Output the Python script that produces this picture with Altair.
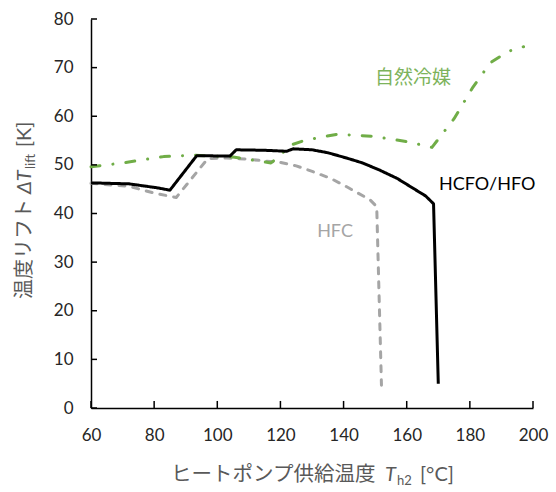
import altair as alt
import pandas as pd

# ---- data ----
black_x = [60, 72, 80.8, 85, 93.5, 104, 106, 115, 122, 124, 130, 135, 141, 146, 151.5, 157, 162, 166, 168.5, 170]
black_y = [46.3, 46.1, 45.3, 44.8, 51.9, 51.8, 53.1, 53.0, 52.8, 53.3, 53.1, 52.5, 51.4, 50.4, 48.9, 47.2, 45.2, 43.6, 42.0, 5.0]

grey_x = [60, 72, 80, 87, 97, 103, 109, 116.7, 120, 125, 130.3, 136, 141, 148.4, 150.5, 152]
grey_y = [46.2, 45.6, 44.2, 43.3, 51.3, 51.4, 51.2, 50.7, 50.5, 49.8, 48.6, 47.2, 45.5, 42.8, 41.4, 4.7]

green_x = [60, 70, 83, 93, 105, 117, 120, 123, 127, 132, 138, 149, 160, 168, 175, 181, 186.5, 192, 197]
green_y = [49.6, 50.4, 51.7, 52.0, 51.6, 50.4, 52.0, 54.0, 54.9, 55.6, 56.3, 55.9, 54.8, 53.6, 59.5, 66.0, 71.0, 73.3, 74.3]

series_names = ["HCFO/HFO", "HFC", "自然冷媒"]
series_colors = ["#000000", "#A5A5A5", "#70AD47"]

label_text = ["HCFO/HFO", "HFC", "自然冷媒"]
label_x = [185.5, 137.3, 162.0]
label_y = [45.9, 36.2, 67.9]
label_colors = ["#000000", "#A5A5A5", "#7DB35B"]

x_ticks = [60, 80, 100, 120, 140, 160, 180, 200]
y_ticks = [0, 10, 20, 30, 40, 50, 60, 70, 80]


def series_df(name, xs, ys):
    return pd.DataFrame({"x": xs, "y": ys, "series": name, "order": list(range(len(xs)))})


df = pd.concat([
    series_df(series_names[0], black_x, black_y),
    series_df(series_names[1], grey_x, grey_y),
    series_df(series_names[2], green_x, green_y),
], ignore_index=True)

xscale = alt.Scale(domain=[60, 200], nice=False, zero=False)
yscale = alt.Scale(domain=[0, 80], nice=False)
xaxis = alt.Axis(values=x_ticks, title=None, labelPadding=19, labelFlush=False)
yaxis = alt.Axis(values=y_ticks, title=None, labelPadding=18, labelFlush=False)
color = alt.Color("series:N", scale=alt.Scale(domain=series_names, range=series_colors), legend=None)


def line_layer(name, dash, cap):
    return alt.Chart(df).transform_filter(alt.datum.series == name).mark_line(
        strokeWidth=3, strokeDash=dash, strokeCap=cap, strokeJoin="round"
    ).encode(
        x=alt.X("x:Q", scale=xscale, axis=xaxis),
        y=alt.Y("y:Q", scale=yscale, axis=yaxis),
        color=color,
        order="order:Q",
    )


black_line = line_layer(series_names[0], [1, 0], "butt")
grey_line = line_layer(series_names[1], [6, 8], "round")
green_line = line_layer(series_names[2], [9, 13, 0.1, 13], "round")

# inward tick marks
xt = pd.DataFrame({"x": x_ticks, "y": 0, "y2": 1.45})
yt = pd.DataFrame({"y": y_ticks, "x": 60, "x2": 61.9})
xtick_layer = alt.Chart(xt).mark_rule(color="black", strokeWidth=1.5).encode(
    x=alt.X("x:Q", scale=xscale, axis=xaxis), y=alt.Y("y:Q", scale=yscale, axis=yaxis), y2="y2:Q")
ytick_layer = alt.Chart(yt).mark_rule(color="black", strokeWidth=1.5).encode(
    y=alt.Y("y:Q", scale=yscale, axis=yaxis), x=alt.X("x:Q", scale=xscale, axis=xaxis), x2="x2:Q")

# series labels
lab = pd.DataFrame({"text": label_text, "x": label_x, "y": label_y, "c": label_colors})
lab_latin = alt.Chart(lab.iloc[:2]).mark_text(font="Lato", fontSize=18, baseline="middle").encode(
    x=alt.X("x:Q", scale=xscale, axis=xaxis), y=alt.Y("y:Q", scale=yscale, axis=yaxis),
    text="text:N", color=alt.Color("c:N", scale=None))
lab_cjk = alt.Chart(lab.iloc[2:]).mark_text(font="Noto Sans CJK JP", fontSize=19, baseline="middle").encode(
    x=alt.X("x:Q", scale=xscale, axis=xaxis), y=alt.Y("y:Q", scale=yscale, axis=yaxis),
    text="text:N", color=alt.Color("c:N", scale=None))

# composed axis titles
one = pd.DataFrame({"a": [0]})
tcol = "#595959"


def seg(text, x, y, font, size, style="normal", angle=0):
    return alt.Chart(one).mark_text(
        text=text, font=font, fontSize=size, fontStyle=style, angle=angle,
        align="left", baseline="alphabetic", color=tcol
    ).encode(x=alt.value(x), y=alt.value(y))


# x title (plot origin at left=91, top=19)
xt_segs = [
    seg("ヒートポンプ供給温度", 80, 462, "Noto Sans CJK JP", 20.5),
    seg("T", 294, 462, "Lato", 20, "italic"),
    seg("h2", 306, 466, "Lato", 13),
    seg("[°C]", 329, 462, "Lato", 20),
]
# y title, rotated
yt_segs = [
    seg("温度リフト", -60, 280, "Noto Sans CJK JP", 20, angle=270),
    seg("ΔT", -60, 175, "Lato", 20, "italic", angle=270),
    seg("lift", -56, 150, "Lato", 13, angle=270),
    seg("[K]", -60, 128, "Lato", 20, angle=270),
]

chart = alt.layer(
    grey_line, green_line, black_line, xtick_layer, ytick_layer, lab_latin, lab_cjk,
    *xt_segs, *yt_segs
).properties(
    width=442, height=389,
    autosize=alt.AutoSizeParams(type="none"),
    padding={"left": 91, "top": 19, "right": 23, "bottom": 84},
).configure_view(stroke=None).configure_axis(
    grid=False, ticks=False, tickSize=0, domainColor="black", domainWidth=1.5,
    labelFont="Lato", labelFontSize=17, labelColor="#262626",
).configure_axisY(labelAlign="right")

chart.save("out.html", embed_options={"renderer": "svg", "actions": False})
